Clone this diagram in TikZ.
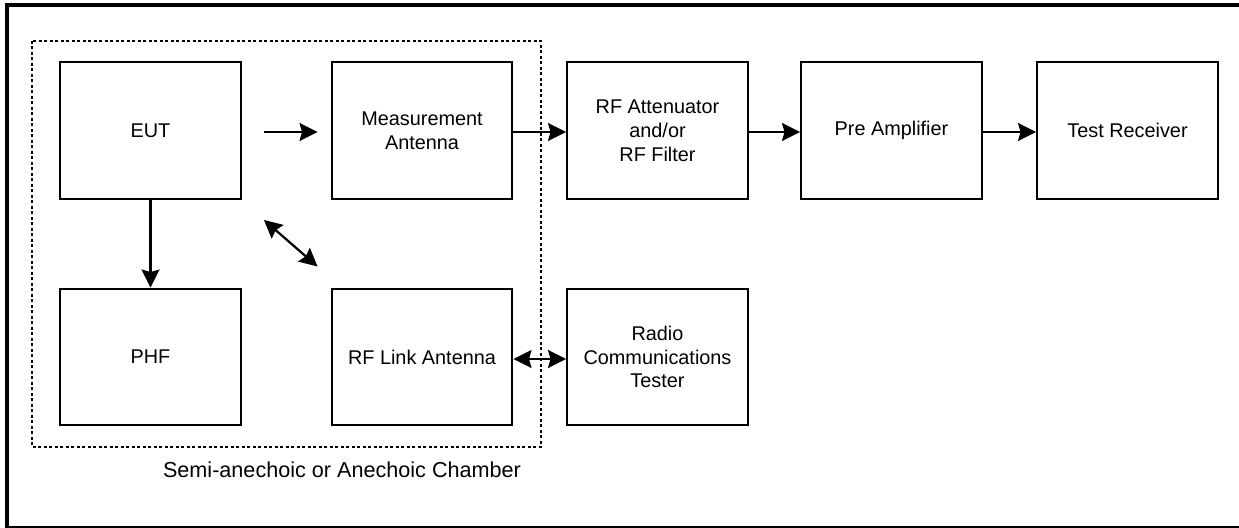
\documentclass[tikz,border=0pt]{standalone}
\usepackage{fontspec}
\setmainfont{Liberation Sans}
\usetikzlibrary{arrows.meta}
\tikzset{
  bloc/.style={draw, line width=0.04cm, minimum width=3.62cm, minimum height=2.74cm,
    align=center, inner sep=2pt, font=\fontsize{11.3}{13.6}\selectfont},
  pointe/.tip={Stealth[length=0.36cm,width=0.36cm,inset=0.05cm]},
  fleche/.style={line width=0.045cm, -pointe},
  dfleche/.style={line width=0.045cm, pointe-pointe},
  chambre/.style={line width=0.045cm, dash pattern=on 0.06cm off 0.05cm}
}
\begin{document}
\begin{tikzpicture}[x=0.02cm,y=-0.02cm]
\useasboundingbox (0,0) rectangle (1239,527);
\clip (0,0) rectangle (1239,527);
%cadre
\draw[line width=0.09cm] (7,5) rectangle (1250,528);
%chambre
\draw[chambre] (32,41) rectangle (541,447);
\node[font=\fontsize{12.3}{14}\selectfont] (lbl) at (342,470) {Semi-anechoic or Anechoic Chamber};
%blocs
\node[bloc] (eut) at (150.5,130.5) {EUT};
\node[bloc] (meas) at (422,130.5) {Measurement\\Antenna};
\node[bloc] (att) at (657.5,130.5) {RF Attenuator\\and/or\\RF Filter};
\node[bloc] (pre) at (891.5,130.5) {Pre Amplifier};
\node[bloc] (rx) at (1127.5,130.5) {Test Receiver};
\node[bloc] (phf) at (150.5,357) {PHF};
\node[bloc] (link) at (422,357) {RF Link Antenna};
\node[bloc] (radio) at (657.5,357) {Radio\\Communications\\Tester};
%liaisons
\draw[fleche] ([xshift=0.44cm,yshift=-0.03cm]eut.east) -- ([xshift=-0.26cm,yshift=-0.03cm]meas.west);
\draw[fleche] ([yshift=-0.03cm]meas.east) -- ([yshift=-0.03cm]att.west);
\draw[fleche] ([yshift=-0.03cm]att.east) -- ([yshift=-0.03cm]pre.west);
\draw[fleche] ([yshift=-0.03cm]pre.east) -- ([yshift=-0.03cm]rx.west);
\draw[fleche] (eut.south) -- (phf.north);
\draw[dfleche] ([xshift=0.44cm,yshift=-0.4cm]eut.south east) -- ([xshift=-0.26cm,yshift=0.42cm]link.north west);
\draw[dfleche] ([yshift=-0.04cm]link.east) -- ([yshift=-0.04cm]radio.east -| radio.west);
\end{tikzpicture}
\end{document}
